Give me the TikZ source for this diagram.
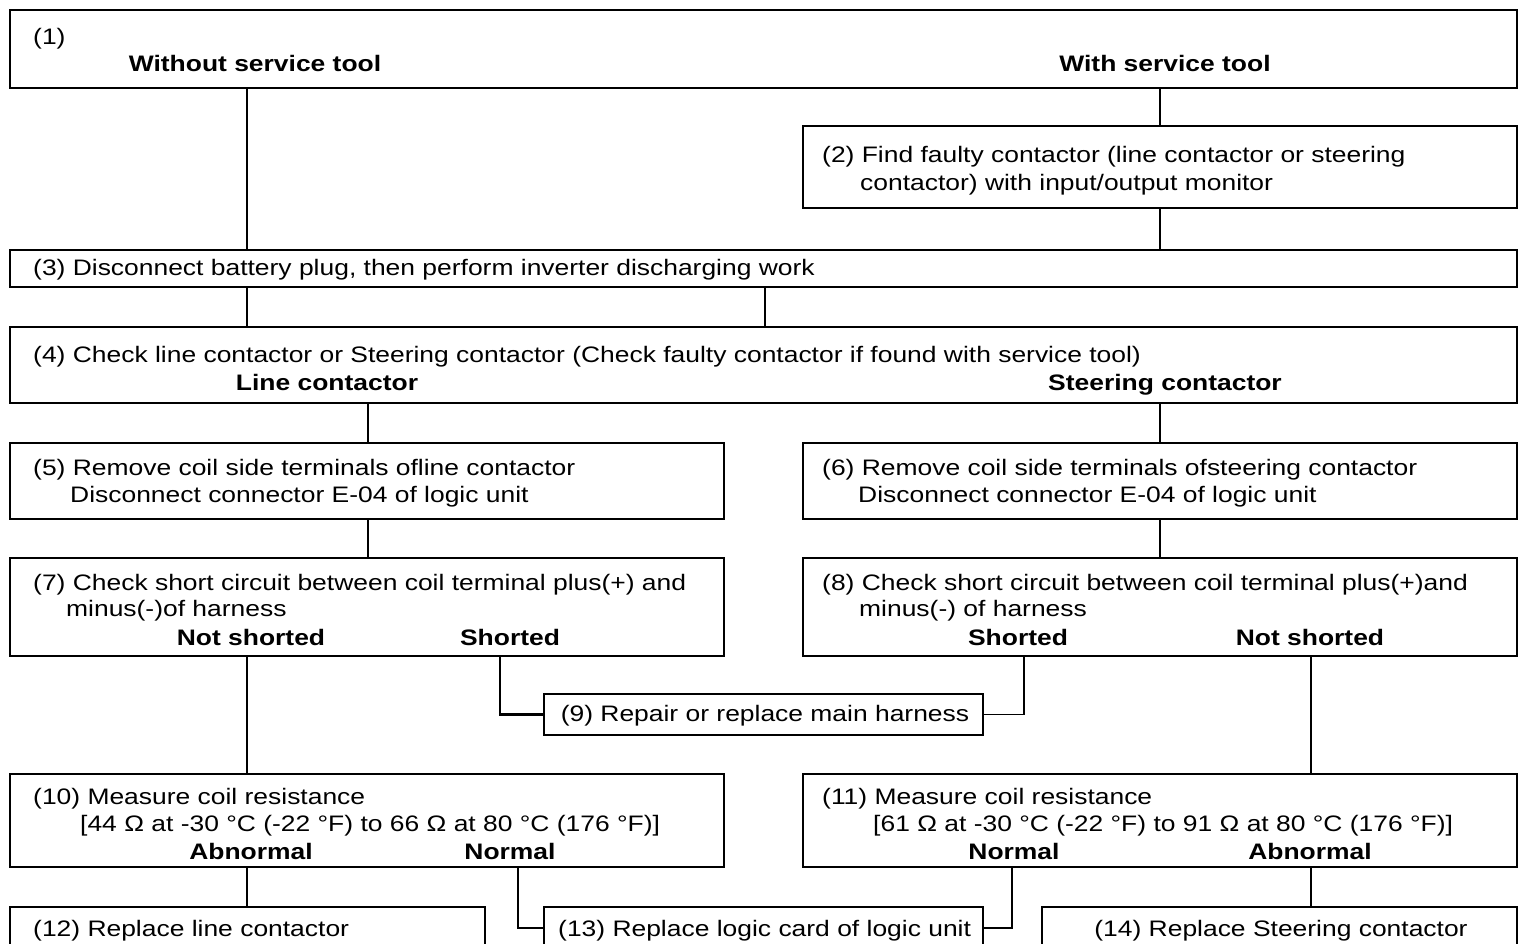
\documentclass[tikz,border=0pt]{standalone}
\usepackage{fontspec}
\setmainfont{Liberation Sans}[FakeStretch=1.18]
\begin{document}
\begin{tikzpicture}[x=1pt,y=-1pt,
  box/.style={draw, line width=2.2pt, rectangle, outer sep=0pt, inner sep=0pt, anchor=north west},
  thinbox/.style={box, line width=1.7pt},
  txt/.style={inner sep=0pt, anchor=base west, font=\fontsize{22.4}{27}\selectfont},
  lbl/.style={inner sep=0pt, anchor=base, font=\fontsize{22.4}{27}\selectfont\bfseries},
  ctr/.style={inner sep=0pt, anchor=base, font=\fontsize{22.4}{27}\selectfont},
  link/.style={line width=1.5pt},
  boldlink/.style={line width=2.6pt}]
\useasboundingbox (0,0) rectangle (1519,944);
\clip (0,0) rectangle (1519,944);

% connector columns
\coordinate (cA) at (247,0);
\coordinate (cB) at (1160,0);
\coordinate (cC) at (765,0);
\coordinate (cD) at (368,0);
\coordinate (cE) at (500,0);
\coordinate (cF) at (1024,0);
\coordinate (cG) at (1311,0);
\coordinate (cH) at (518,0);
\coordinate (cI) at (1012,0);

% boxes
\node[thinbox, minimum width=1507, minimum height=78] (b1) at (10,10) {};
\node[thinbox, minimum width=714, minimum height=82] (b2) at (803,126) {};
\node[box, minimum width=1507, minimum height=37] (b3) at (10,250) {};
\node[box, minimum width=1507, minimum height=76] (b4) at (10,327) {};
\node[box, minimum width=714, minimum height=76] (b5) at (10,443) {};
\node[box, minimum width=714, minimum height=76] (b6) at (803,443) {};
\node[box, minimum width=714, minimum height=98] (b7) at (10,558) {};
\node[box, minimum width=714, minimum height=98] (b8) at (803,558) {};
\node[box, minimum width=439, minimum height=41] (b9) at (544,694) {};
\node[box, minimum width=714, minimum height=93] (b10) at (10,774) {};
\node[box, minimum width=714, minimum height=93] (b11) at (803,774) {};
\node[box, minimum width=475, minimum height=42] (b12) at (10,907) {};
\node[box, minimum width=439, minimum height=42] (b13) at (544,907) {};
\node[box, minimum width=475, minimum height=42] (b14) at (1042,907) {};

% texts
\node[txt] (t1) at (33,45) {(1)};
\node[lbl] (t1l) at (255,72) {Without service tool};
\node[lbl] (t1r) at (1165,72) {With service tool};
\node[txt] (t2a) at (822,163) {(2) Find faulty contactor (line contactor or steering};
\node[txt] (t2b) at (860,191) {contactor) with input/output monitor};
\node[txt] (t3) at (33,276) {(3) Disconnect battery plug, then perform inverter discharging work};
\node[txt] (t4) at (33,362) {(4) Check line contactor or Steering contactor (Check faulty contactor if found with service tool)};
\node[lbl] (t4l) at (327,390) {Line contactor};
\node[lbl] (t4r) at (1165,390) {Steering contactor};
\node[txt] (t5a) at (33,475) {(5) Remove coil side terminals ofline contactor};
\node[txt] (t5b) at (70,502) {Disconnect connector E-04 of logic unit};
\node[txt] (t6a) at (822,475) {(6) Remove coil side terminals ofsteering contactor};
\node[txt] (t6b) at (858,502) {Disconnect connector E-04 of logic unit};
\node[txt] (t7a) at (33,590) {(7) Check short circuit between coil terminal plus(+) and};
\node[txt] (t7b) at (66,616) {minus(-)of harness};
\node[lbl] (t7l) at (251,645) {Not shorted};
\node[lbl] (t7r) at (510,645) {Shorted};
\node[txt] (t8a) at (822,590) {(8) Check short circuit between coil terminal plus(+)and};
\node[txt] (t8b) at (859,616) {minus(-) of harness};
\node[lbl] (t8l) at (1018,645) {Shorted};
\node[lbl] (t8r) at (1310,645) {Not shorted};
\node[ctr] (t9) at (765,721) {(9) Repair or replace main harness};
\node[txt] (t10a) at (33,804) {(10) Measure coil resistance};
\node[txt] (t10b) at (80,831) {[44 Ω at -30 °C (-22 °F) to 66 Ω at 80 °C (176 °F)]};
\node[lbl] (t10l) at (251,859) {Abnormal};
\node[lbl] (t10r) at (510,859) {Normal};
\node[txt] (t11a) at (822,804) {(11) Measure coil resistance};
\node[txt] (t11b) at (873,831) {[61 Ω at -30 °C (-22 °F) to 91 Ω at 80 °C (176 °F)]};
\node[lbl] (t11l) at (1014,859) {Normal};
\node[lbl] (t11r) at (1310,859) {Abnormal};
\node[txt] (t12) at (33,936) {(12) Replace line contactor};
\node[txt] (t13) at (558,936) {(13) Replace logic card of logic unit};
\node[ctr] (t14) at (1281,936) {(14) Replace Steering contactor};

% connectors
\draw[link] (b1.south -| cA) -- (b3.north -| cA);
\draw[link] (b1.south -| cB) -- (b2.north -| cB);
\draw[link] (b2.south -| cB) -- (b3.north -| cB);
\draw[link] (b3.south -| cA) -- (b4.north -| cA);
\draw[boldlink] (b3.south -| cC) -- (b4.north -| cC);
\draw[link] (b4.south -| cD) -- (b5.north -| cD);
\draw[link] (b4.south -| cB) -- (b6.north -| cB);
\draw[link] (b5.south -| cD) -- (b7.north -| cD);
\draw[link] (b6.south -| cB) -- (b8.north -| cB);
\draw[boldlink] (b7.south -| cE) |- (b9.west);
\draw[link] (b8.south -| cF) |- (b9.east);
\draw[link] (b7.south -| cA) -- (b10.north -| cA);
\draw[boldlink] (b8.south -| cG) -- (b11.north -| cG);
\draw[link] (b10.south -| cA) -- (b12.north -| cA);
\draw[link] (b10.south -| cH) |- (b13.west);
\draw[link] (b11.south -| cI) |- (b13.east);
\draw[boldlink] (b11.south -| cG) -- (b14.north -| cG);
\end{tikzpicture}
\end{document}
